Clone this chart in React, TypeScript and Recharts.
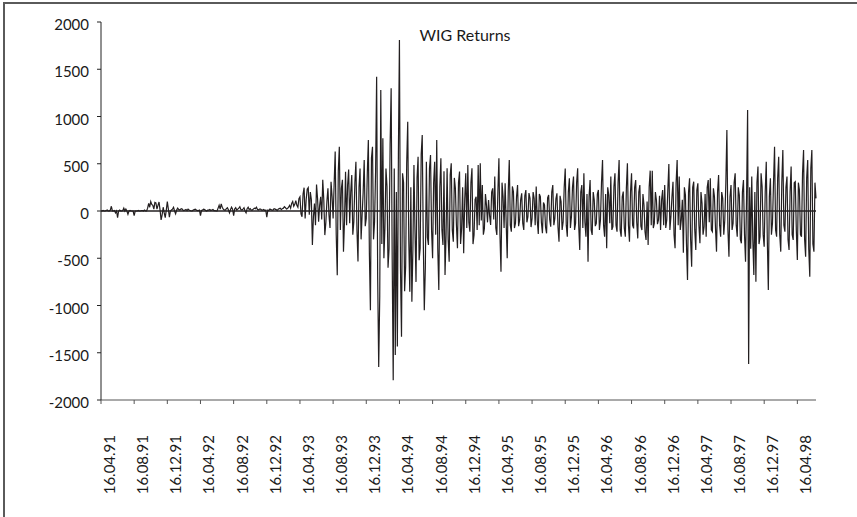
import { LineChart, Line, XAxis, YAxis, ReferenceLine } from 'recharts'

const FONT = 'Lato, "Open Sans", sans-serif'
const TEXT = '#1a1a1a'

// one tick mark every 32 points (4 months per tick)
const POINTS_PER_TICK = 32

const tickLabels = [
  '16.04.91', '16.08.91', '16.12.91', '16.04.92', '16.08.92', '16.12.92',
  '16.04.93', '16.08.93', '16.12.93', '16.04.94', '16.08.94', '16.12.94',
  '16.04.95', '16.08.95', '16.12.95', '16.04.96', '16.08.96', '16.12.96',
  '16.04.97', '16.08.97', '16.12.97', '16.04.98',
]

const yTicks = [-2000, -1500, -1000, -500, 0, 500, 1000, 1500, 2000]

// WIG returns, one row per tick period
const returns = [
  0, 0, 5, 0, 0, 5, 10, 0, 0, 10, 50, 0, 0, 5, -20, 0, -70, 0, 10, 0, 0, 5, 30, 0, 20, 0, -35, 0, 5, 0, 0, 0,
  -50, 0, 0, 0, 5, 0, 0, 5, 5, 0, 10, 0, 0, 30, 80, 40, 100, 70, 60, 20, 90, 85, 20, 60, 95, 10, -95, -40, 40, -20, -70, 10,
  100, 20, -65, 0, 10, 20, 40, 0, -30, 10, 30, 15, 10, 20, 25, 10, 5, 10, 15, 5, 20, 10, 5, 0, 0, 10, 15, 20, 10, 5, 5, 10,
  -50, 5, 10, 20, 15, 5, 0, 10, 10, 15, 5, 10, 15, 5, 5, 0, 0, 30, 60, 20, 75, 40, 20, 10, 10, 25, 35, 10, -20, 15, 40, 20,
  -50, 20, 35, 10, 20, 30, 45, 15, 10, 20, 35, 0, -20, 25, 40, 15, 25, 10, 10, 20, 30, 25, 40, 15, 10, 20, 20, 10, 10, 15, 5, 10,
  -65, 10, 5, 20, 15, 10, 10, 25, 20, 15, 5, 20, 25, 30, 15, 25, 30, 45, 35, 20, 25, 40, 60, 30, 80, 100, 50, 70, 110, 60, 40, 130,
  150, -30, -60, 180, 247, -80, 120, 230, 247, -40, 200, 120, -360, -60, 80, -150, 280, 130, -113, 60, 150, -90, 330, 120, -255, -120, 100, 240, -42, -180, 310, 150,
  -78, 290, 630, -250, -680, 420, 680, -200, 240, 330, -430, -100, 415, -150, 275, 440, -130, 200, 380, -250, -113, 300, 520, -200, -535, 250, 450, -300, -42, 200, 540, -160,
  -78, 400, 750, -450, -1050, 560, 680, -300, -113, 420, 1420, -700, -1650, -900, 1280, -350, 770, -500, -180, 450, 260, -600, -400, 700, 1300, -500, -1790, 450, -1525, 200, -1435, 600,
  1810, -600, -1330, 400, 300, -850, -590, 500, 945, -300, -855, 250, -960, -400, 487, -200, -750, 350, 575, -520, -395, 600, 805, -300, -1050, -600, 522, -280, -360, 450, 593, -200,
  -500, 300, 522, -250, 752, -400, -837, 250, 558, -200, -360, 420, -678, -250, 452, -300, -537, 380, 504, -200, -325, 350, 240, -150, -395, 300, 417, -350, -184, 250, -448, 120,
  400, -180, 487, -120, -219, 300, 452, -350, -254, 120, 150, -200, 487, -150, 504, -100, 275, -250, -184, 180, 60, -120, 116, -50, -148, 200, 240, -90, 364, -180, -254, 200,
  558, -250, -642, 300, 152, -180, 293, -120, -501, 200, 540, -150, -219, 260, 205, -180, -130, 150, 275, -160, -95, 120, 187, -130, -201, 160, 222, -120, -60, 190, 134, -170,
  -78, 200, 134, -150, 258, -100, -244, 180, 152, -120, -236, 90, 64, -170, -236, 140, 170, -90, -166, 200, 275, -150, -78, 130, 187, -170, -325, 160, 99, -200, -113, 250,
  450, -150, -272, 200, 346, -180, -60, 250, 364, -200, -130, 300, 452, -150, -413, 200, 275, -180, 399, -120, -272, 180, -537, 150, 328, -200, -254, 200, 116, -160, -130, 180,
  222, -200, -95, 300, 540, -150, -272, 180, -395, 250, 170, -130, 364, -200, -166, 260, 399, -150, -219, 300, 540, -200, -272, 150, 205, -180, -272, 240, 505, -150, -325, 200,
  399, -150, -184, 250, 328, -120, -290, 200, 275, -160, -201, 180, 64, -220, -307, 100, -360, 250, 427, -150, 427, -180, -130, 200, 116, -140, -95, 160, -201, 120, 222, -150,
  275, -180, -95, 220, 498, -200, -60, 150, 310, -250, -395, 300, 540, -150, 364, -200, -95, 120, -441, 250, 170, -350, -731, 200, 346, -300, -590, 250, 310, -200, -413, 220,
  293, -150, -342, 200, 81, -250, -166, 180, -272, 250, 328, -120, 346, -200, -219, 240, 152, -180, -430, 200, 381, -150, -272, 200, 134, -250, -95, 300, 858, -200, -484, 150,
  275, -200, -130, 300, 399, -150, -272, 250, 170, -300, -342, 200, 328, -250, -537, 150, 1070, -1620, 250, -400, 364, -300, -678, 200, -748, 300, 470, -350, -272, 400, 258, -250,
  -378, 200, 522, -300, -837, 150, 346, -250, -130, 300, 681, -200, -272, 350, 575, -250, -430, 300, 646, -150, -219, 250, 364, -300, -413, 200, 470, -250, -307, 300, 311, -200,
  -519, 300, 222, -250, -272, 400, 646, -300, -484, 350, 540, -400, -695, 450, 646, -350, -430, 300, 134,
]

const data = returns.map((v, i) => ({ i, v }))
const xTicks = tickLabels.map((_, k) => k * POINTS_PER_TICK)

function DateTick({ x, y, payload }: any) {
  const k = Math.round(payload.value / POINTS_PER_TICK)
  const tx = x + 14
  const ty = y + 29
  return (
    <text
      x={tx}
      y={ty}
      transform={`rotate(-90, ${tx}, ${ty})`}
      textAnchor="end"
      fontSize={15}
      fontFamily={FONT}
      fill={TEXT}
    >
      {tickLabels[k]}
    </text>
  )
}

function ValueTick({ x, y, payload }: any) {
  return (
    <text x={x} y={y + 8} textAnchor="end" fontSize={15} fontFamily={FONT} fill={TEXT}>
      {payload.value}
    </text>
  )
}

export default function App() {
  return (
    <div style={{ position: 'relative', width: 857, height: 517, background: '#fff', overflow: 'hidden' }}>
      <style>{'body { margin: 0; }'}</style>
      {/* chart frame, only top and left edges show */}
      <div
        style={{
          position: 'absolute',
          left: 3,
          top: 2,
          right: -20,
          bottom: -20,
          borderTop: '2px solid #5a5a5a',
          borderLeft: '2px solid #5a5a5a',
        }}
      />
      <LineChart width={857} height={517} data={data} margin={{ top: 22, right: 41, bottom: 0, left: 0 }}>
        <XAxis
          type="number"
          dataKey="i"
          domain={[0, returns.length - 1]}
          ticks={xTicks}
          interval={0}
          height={117}
          tickSize={4}
          stroke="#555"
          tick={DateTick}
        />
        <YAxis
          type="number"
          domain={[-2000, 2000]}
          ticks={yTicks}
          interval={0}
          width={101}
          tickSize={4}
          tickMargin={8}
          stroke="#222"
          tick={ValueTick}
        />
        <ReferenceLine y={0} stroke="#231f20" strokeWidth={1.5} />
        <Line
          type="linear"
          dataKey="v"
          stroke="#231f20"
          strokeWidth={1.2}
          dot={false}
          isAnimationActive={false}
        />
      </LineChart>
      <div
        style={{
          position: 'absolute',
          left: 365,
          top: 27,
          width: 200,
          textAlign: 'center',
          fontFamily: FONT,
          fontSize: 16,
          lineHeight: '16px',
          color: TEXT,
        }}
      >
        WIG Returns
      </div>
    </div>
  )
}
